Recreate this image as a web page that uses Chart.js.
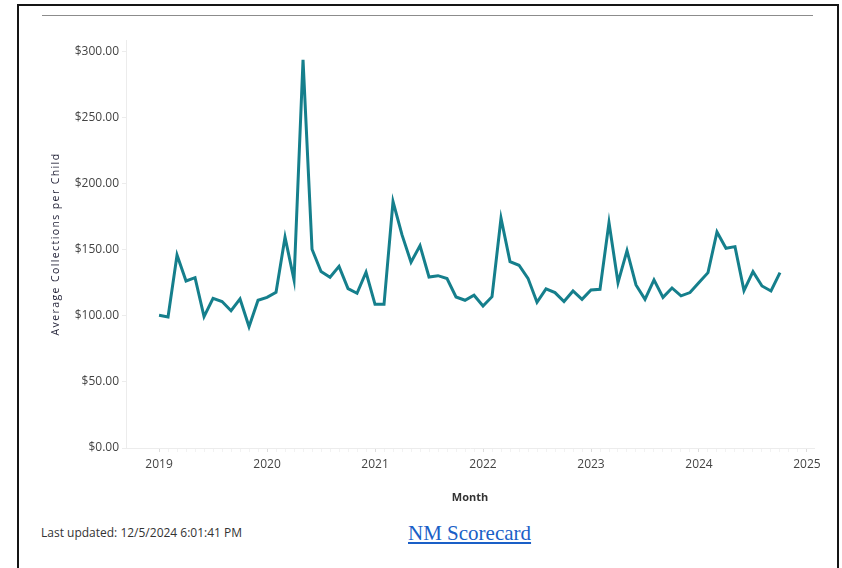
<!DOCTYPE html>
<html>
<head>
<meta charset="utf-8">
<script src="https://cdn.jsdelivr.net/npm/chart.js@4/dist/chart.umd.min.js"></script>
<style>
  html, body { margin: 0; padding: 0; background: #fff; }
  body { width: 842px; height: 568px; position: relative; overflow: hidden; }
  #frame { position: absolute; left: 17px; top: 4px; width: 818px; height: 600px; border: 2px solid #151515; }
  #rule { position: absolute; left: 42px; top: 15px; width: 771px; height: 1px; background: #8c8c8c; }
  #graph { position: absolute; left: 0; top: 0; }
  #updated { position: absolute; left: 41px; top: 524px; font: 12px "Open Sans", sans-serif; color: #333; }
  #link { position: absolute; left: 408px; top: 521px; font: 21px "Liberation Serif", serif; color: #1a5fc7; text-decoration: underline; }
</style>
</head>
<body>
<div id="frame"></div>
<div id="rule"></div>
<canvas id="graph" width="842" height="508"></canvas>
<div id="updated">Last updated: 12/5/2024 6:01:41 PM</div>
<a id="link" href="#">NM Scorecard</a>
<script>
// месяцы (категории)
var months = [
  '2019-01','2019-02','2019-03','2019-04','2019-05','2019-06','2019-07','2019-08','2019-09','2019-10','2019-11','2019-12',
  '2020-01','2020-02','2020-03','2020-04','2020-05','2020-06','2020-07','2020-08','2020-09','2020-10','2020-11','2020-12',
  '2021-01','2021-02','2021-03','2021-04','2021-05','2021-06','2021-07','2021-08','2021-09','2021-10','2021-11','2021-12',
  '2022-01','2022-02','2022-03','2022-04','2022-05','2022-06','2022-07','2022-08','2022-09','2022-10','2022-11','2022-12',
  '2023-01','2023-02','2023-03','2023-04','2023-05','2023-06','2023-07','2023-08','2023-09','2023-10','2023-11','2023-12',
  '2024-01','2024-02','2024-03','2024-04','2024-05','2024-06','2024-07','2024-08','2024-09','2024-10'
];

// средние сборы на ребёнка
var collections = [
  100.5, 99.2, 146.2, 126.5, 129.0, 99.5, 113.4, 110.9, 104.0, 112.9, 91.9, 111.9,
  114.1, 117.9, 159.6, 127.3, 294.0, 150.5, 133.6, 129.3, 137.6, 120.7, 117.2, 133.1,
  108.8, 108.8, 186.6, 161.4, 140.7, 153.3, 129.5, 130.5, 128.3, 114.4, 111.9, 115.7,
  107.6, 114.6, 174.0, 141.2, 138.4, 128.5, 110.4, 120.5, 117.7, 110.9, 118.9, 112.6,
  119.7, 120.2, 170.7, 125.3, 149.5, 123.5, 112.6, 127.3, 114.1, 121.2, 115.2, 117.7,
  125.3, 132.8, 163.6, 151.3, 152.5, 119.2, 133.6, 122.7, 118.9, 132.8
];

var yearTicks = [2019, 2020, 2021, 2022, 2023, 2024, 2025];
var valueTicks = [0, 50, 100, 150, 200, 250, 300];

var points = months.map(function (m, i) {
  var parts = m.split('-');
  return { x: Number(parts[0]) + (Number(parts[1]) - 1) / 12, y: collections[i] };
});

// засечки: годы + месячные (бледные)
var xTicks = [];
yearTicks.forEach(function (yr) {
  for (var k = 0; k < 12; k++) {
    if (yr === 2025 && k > 0) break;
    xTicks.push({ value: yr + k / 12, major: k === 0 });
  }
});

var ctx = document.getElementById('graph').getContext('2d');
var axisColor = '#ececec';
var labelFont = { family: 'Open Sans', size: 12 };

// разрядка для подписи оси Y
var titleSpacing = {
  id: 'titleSpacing',
  afterUpdate: function (chart) {
    var s = chart.scales.y;
    if (s._spaced) return;
    var orig = s.drawTitle;
    s.drawTitle = function () {
      var c = this.ctx;
      c.save();
      c.letterSpacing = '1.4px';
      orig.apply(this, arguments);
      c.restore();
    };
    s._spaced = true;
  }
};

var chart = new Chart(ctx, {
  type: 'line',
  data: {
    datasets: [{
      label: 'Average Collections per Child',
      data: points,
      borderColor: '#157f8c',
      borderWidth: 3,
      pointRadius: 0,
      tension: 0,
      fill: false
    }]
  },
  options: {
    responsive: false,
    animation: false,
    layout: { padding: { left: 45, top: 40, right: 28, bottom: 0 } },
    plugins: { legend: { display: false }, tooltip: { enabled: false } },
    scales: {
      x: {
        type: 'linear',
        min: 2018.694,
        max: 2025.065,
        afterBuildTicks: function (scale) { scale.ticks = xTicks.map(function (t) { return { value: t.value, major: t.major }; }); },
        afterFit: function (scale) { scale.height = 60; },
        ticks: {
          color: '#444', font: labelFont, padding: 5, maxRotation: 0, autoSkip: false,
          callback: function (v, i) { return xTicks[i].major ? String(Math.round(v)) : ''; }
        },
        grid: {
          drawOnChartArea: false, drawTicks: true, tickLength: 4,
          color: function (c) { return c.tick && c.tick.major ? '#dcdcdc' : '#f2f2f2'; }
        },
        border: { display: true, color: axisColor },
        title: { display: true, text: 'Month', color: '#333', font: { family: 'Open Sans', size: 11, weight: 'bold' }, padding: { top: 0, bottom: 4 } }
      },
      y: {
        min: 0,
        max: 309,
        afterBuildTicks: function (scale) { scale.ticks = valueTicks.map(function (v) { return { value: v }; }); },
        afterFit: function (scale) { scale.width = 81; },
        ticks: { color: '#444', font: labelFont, padding: 3, callback: function (v) { return '$' + v.toFixed(2); } },
        grid: { drawOnChartArea: false, drawTicks: true, tickLength: 4, color: axisColor },
        border: { display: true, color: axisColor },
        title: { display: true, text: 'Average Collections per Child', color: '#1d1d33', font: { family: 'Open Sans', size: 10.5 }, padding: { top: 5, bottom: 0 } }
      }
    }
  },
  plugins: [titleSpacing]
});
</script>
</body>
</html>
